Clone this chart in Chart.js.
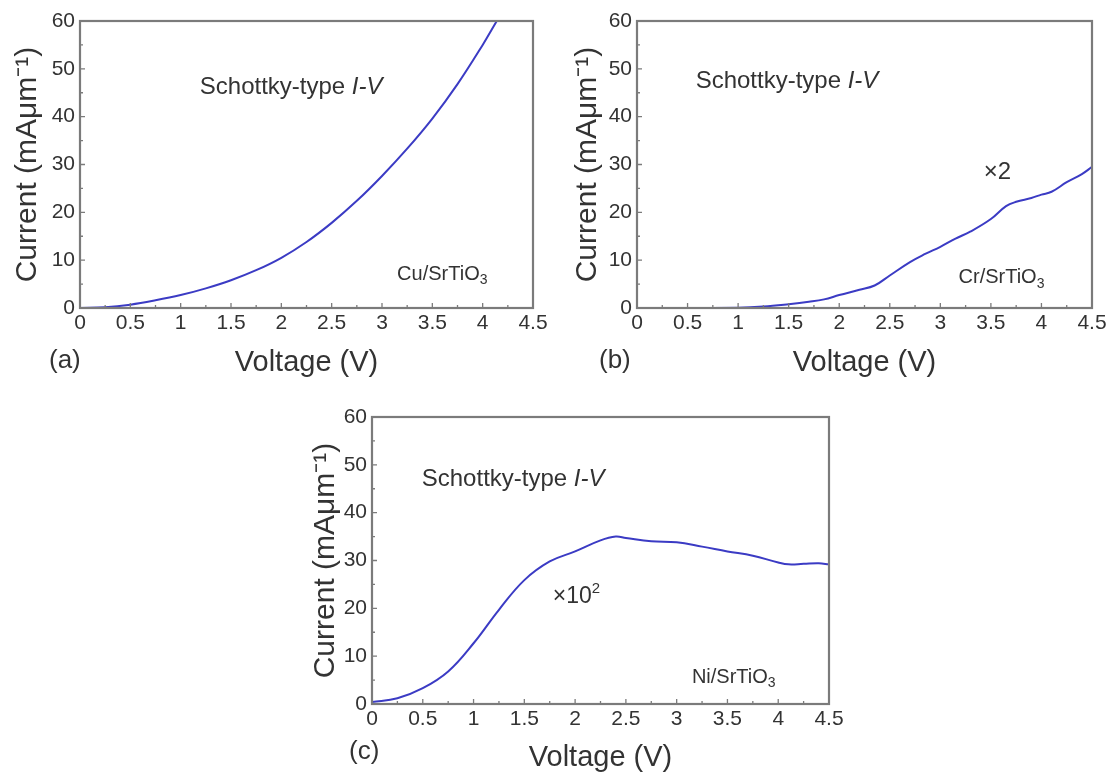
<!DOCTYPE html>
<html><head><meta charset="utf-8">
<script src="https://cdn.jsdelivr.net/npm/chart.js@4.4.0/dist/chart.umd.min.js"></script>
<style>
html,body{margin:0;padding:0;background:#fff;}
#wrap{position:relative;width:1115px;height:780px;overflow:hidden;background:#fff;}
canvas{position:absolute;}
</style></head><body>
<div id="wrap">
<canvas id="ca" width="557" height="390" style="left:0;top:0"></canvas>
<canvas id="cb" width="558" height="390" style="left:557px;top:0"></canvas>
<canvas id="cc" width="557" height="390" style="left:292px;top:390px"></canvas>
</div>
<script>
// ---- data ----
const cuV = [0, 0.25, 0.5, 0.75, 1.0, 1.25, 1.5, 1.75, 2.0, 2.25, 2.5, 2.75, 3.0, 3.25, 3.5, 3.75, 4.0, 4.14];
const cuI = [0, 0.15, 0.7, 1.6, 2.7, 4.1, 5.8, 7.9, 10.5, 13.8, 17.8, 22.4, 27.6, 33.3, 39.6, 46.8, 55.0, 60];

const crV = [0, 0.5, 1.0, 1.25, 1.5, 1.7, 1.85, 2.0, 2.2, 2.35, 2.5, 2.7, 2.85, 3.0, 3.15, 3.3, 3.5, 3.65, 3.75, 3.9, 4.0, 4.1, 4.25, 4.4, 4.5];
const crI = [0, 0, 0.05, 0.3, 0.8, 1.3, 1.8, 2.7, 3.8, 4.7, 6.8, 9.6, 11.3, 12.8, 14.5, 16.0, 18.6, 21.3, 22.2, 23.0, 23.7, 24.3, 26.3, 28.0, 29.5];

const niV = [0, 0.25, 0.5, 0.75, 1.0, 1.25, 1.5, 1.75, 2.0, 2.25, 2.4, 2.5, 2.75, 3.0, 3.25, 3.5, 3.75, 4.0, 4.1, 4.25, 4.4, 4.5];
const niI = [0.4, 1.2, 3.3, 6.8, 12.7, 19.7, 25.9, 29.8, 31.9, 34.2, 35.0, 34.7, 34.0, 33.8, 32.9, 31.9, 31.0, 29.6, 29.2, 29.3, 29.4, 29.2];

const xMin = 0, xMax = 4.5, xStep = 0.5;
const yMin = 0, yMax = 60, yStep = 10;
const xTitle = 'Voltage (V)';
const yTitle = 'Current (mAμm⁻¹)';
const panelLabels = ['(a)', '(b)', '(c)'];
const headline = ['Schottky-type ', 'I-V'];
const sampleNames = [['Cu/SrTiO', '3'], ['Cr/SrTiO', '3'], ['Ni/SrTiO', '3']];
const factors = [null, ['×2', ''], ['×10', '2']];

// ---- drawing helpers ----
const FONT = '"Liberation Sans", Arial, Helvetica, sans-serif';
const INK = '#333333';

function rich(ctx, x, y, parts) {
  let cx = x;
  ctx.textBaseline = 'middle';
  ctx.textAlign = 'left';
  for (const p of parts) {
    ctx.font = (p.italic ? 'italic ' : '') + p.size + 'px ' + FONT;
    ctx.fillText(p.t, cx, y + (p.shift || 0));
    cx += ctx.measureText(p.t).width;
  }
}

function makeFrame(cfg) {
  return {
    id: 'frame',
    afterDatasetsDraw(chart) {
      const { ctx, chartArea: a, scales: { x, y } } = chart;
      ctx.save();
      ctx.strokeStyle = '#7b7b7b';
      ctx.lineWidth = 1.3;
      ctx.beginPath();
      const xt = x.ticks.map(t => t.value);
      for (let i = 0; i < xt.length; i++) {
        const px = x.getPixelForValue(xt[i]);
        ctx.moveTo(px, a.bottom); ctx.lineTo(px, a.bottom - 5);
        if (i < xt.length - 1) {
          const pm = x.getPixelForValue((xt[i] + xt[i + 1]) / 2);
          ctx.moveTo(pm, a.bottom); ctx.lineTo(pm, a.bottom - 3);
        }
      }
      const yt = y.ticks.map(t => t.value);
      for (let i = 0; i < yt.length; i++) {
        const py = y.getPixelForValue(yt[i]);
        ctx.moveTo(a.left, py); ctx.lineTo(a.left + 5, py);
        if (i < yt.length - 1) {
          const pm = y.getPixelForValue((yt[i] + yt[i + 1]) / 2);
          ctx.moveTo(a.left, pm); ctx.lineTo(a.left + 3, pm);
        }
      }
      ctx.stroke();
      ctx.lineWidth = 2.2;
      ctx.strokeRect(a.left, a.top, a.width, a.height);

      ctx.fillStyle = INK;
      for (const n of cfg.notes) {
        rich(ctx, x.getPixelForValue(n.x), y.getPixelForValue(n.y), n.parts);
      }
      ctx.font = '26px ' + FONT;
      ctx.textBaseline = 'middle';
      ctx.textAlign = 'left';
      ctx.fillText(cfg.label, cfg.lx, cfg.ly);
      ctx.restore();
    }
  };
}

function makeChart(id, xs, ys, cfg) {
  const pts = xs.map((v, i) => ({ x: v, y: ys[i] }));
  return new Chart(document.getElementById(id), {
    type: 'scatter',
    data: {
      datasets: [{
        data: pts, showLine: true, borderColor: '#3b3bc4', borderWidth: 2,
        pointRadius: 0, tension: 0.4, fill: false
      }]
    },
    options: {
      responsive: false, animation: false, devicePixelRatio: 1,
      layout: { padding: { left: 0, top: cfg.top, right: cfg.right, bottom: 0 } },
      plugins: { legend: { display: false }, tooltip: { enabled: false } },
      scales: {
        x: {
          type: 'linear', min: xMin, max: xMax,
          afterFit: s => { s.height = cfg.xh; },
          grid: { display: false, drawTicks: false }, border: { display: false },
          ticks: { stepSize: xStep, padding: 3, color: INK, font: { size: 21, family: FONT }, maxRotation: 0, autoSkip: false,
                   callback: v => String(Math.round(v * 10) / 10) },
          title: { display: true, text: xTitle, color: INK, font: { size: 29, family: FONT }, padding: { top: 0, bottom: cfg.xtp } }
        },
        y: {
          type: 'linear', min: yMin, max: yMax,
          afterFit: s => { s.width = 80; },
          grid: { display: false, drawTicks: false }, border: { display: false },
          ticks: { stepSize: yStep, padding: 5, color: INK, font: { size: 21, family: FONT },
                   callback: v => String(v) },
          title: { display: true, text: yTitle, color: INK, font: { size: 30, family: FONT }, padding: { top: cfg.ytp, bottom: 0 } }
        }
      }
    },
    plugins: [makeFrame(cfg)]
  });
}

function headParts() {
  return [{ t: headline[0], size: 24 }, { t: headline[1], size: 24, italic: true }];
}
function nameParts(k) {
  return [{ t: sampleNames[k][0], size: 20 }, { t: sampleNames[k][1], size: 14, shift: 6 }];
}

makeChart('ca', cuV, cuI, {
  top: 21, right: 24, xh: 82, xtp: 10, ytp: 10, label: panelLabels[0], lx: 49, ly: 361,
  notes: [
    { x: 1.19, y: 46.2, parts: headParts() },
    { x: 3.15, y: 7.0, parts: nameParts(0) }
  ]
});
makeChart('cb', crV, crI, {
  top: 21, right: 23, xh: 82, xtp: 10, ytp: 13, label: panelLabels[1], lx: 42, ly: 361,
  notes: [
    { x: 0.58, y: 47.3, parts: headParts() },
    { x: 3.43, y: 28.4, parts: [{ t: factors[1][0], size: 24 }] },
    { x: 3.18, y: 6.3, parts: nameParts(1) }
  ]
});
makeChart('cc', niV, niI, {
  top: 27, right: 20, xh: 76, xtp: 5, ytp: 16, label: panelLabels[2], lx: 57, ly: 362,
  notes: [
    { x: 0.49, y: 46.9, parts: headParts() },
    { x: 1.78, y: 22.4, parts: [{ t: factors[2][0], size: 23 }, { t: factors[2][1], size: 15, shift: -8 }] },
    { x: 3.15, y: 5.6, parts: nameParts(2) }
  ]
});
</script>
</body></html>
